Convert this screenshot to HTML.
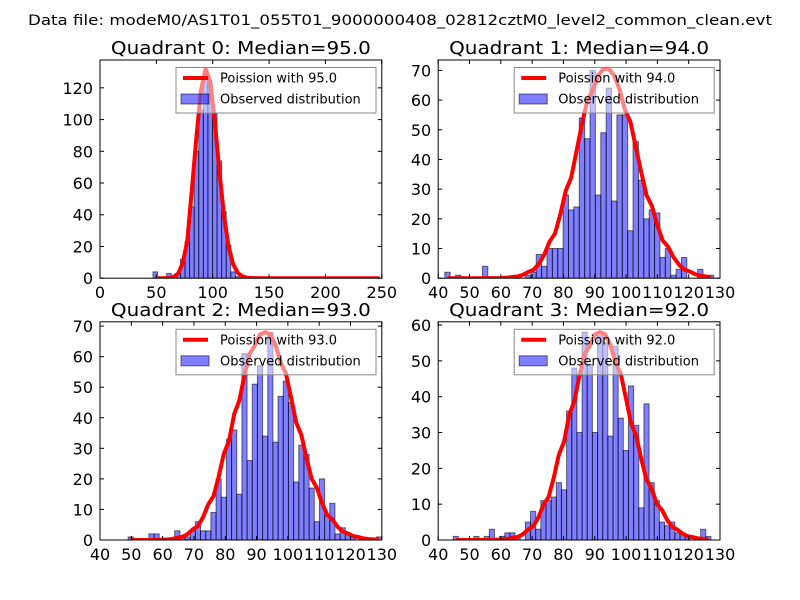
<!DOCTYPE html>
<html><head><meta charset="utf-8">
<style>
html,body{margin:0;padding:0;background:#fff;}
svg{display:block;font-family:"DejaVu Sans","Liberation Sans",sans-serif;}
</style></head>
<body>
<svg id="fig" width="800" height="600" viewBox="0 0 800 600">
<rect width="800" height="600" fill="#fff"/>
<text x="400" y="25" text-anchor="middle" font-size="14.4" textLength="744" lengthAdjust="spacingAndGlyphs">Data file: modeM0/AS1T01_055T01_9000000408_02812cztM0_level2_common_clean.evt</text>
</svg>
<script>
// ---- data ----
const titles = ["Quadrant 0: Median=95.0","Quadrant 1: Median=94.0","Quadrant 2: Median=93.0","Quadrant 3: Median=92.0"];
const medians = [95.0, 94.0, 93.0, 92.0];
const curvePeaks = [132, 70.5, 68, 58];
const q0Counts = [4,0,0,3,1,3,12,23,45,80,106,131,122,104,74,42,21,4,1,0,0,0,0,0,0,0,0,0,0,0,0,0,0,0,0,0,0,0,0,0,0,0,0,0,0,0,0,0,0,0];
const q0Range = [47, 250];
const q1Counts = [2,0,1,0,0,0,0,4,0,0,0,0,0,1,0,1,2,8,4,10,10,10,28,23,24,54,47,70,28,49,64,26,55,55,16,46,33,20,23,22,7,10,1,3,7,0,0,3,0,1];
const q1Range = [42.1, 128];
const q2Counts = [1,0,0,0,2,2,0,0,0,3,1,1,3,6,3,3,9,20,14,33,36,15,61,26,51,57,34,68,32,47,52,45,19,31,28,17,6,20,8,12,2,4,2,1,0,0,0,0,1];
const q2Range = [49, 129.9];
const q3Counts = [1,0,0,0,1,0,1,3,0,1,2,2,1,0,5,8,3,11,11,12,16,14,36,48,30,58,49,30,57,55,29,54,34,25,43,32,9,38,16,11,5,4,5,2,2,1,0,0,3,1];
const q3Range = [44.8, 127.1];
const q0XTicks = [0,50,100,150,200,250];
const q13XTicks = [40,50,60,70,80,90,100,110,120,130];
const q0YTicks = [0,20,40,60,80,100,120];
const q1YTicks = [0,10,20,30,40,50,60,70];
const q2YTicks = [0,10,20,30,40,50,60,70];
const q3YTicks = [0,10,20,30,40,50,60];
const xLims = [[0,250],[40,130],[40,130],[40,130]];

const NS = "http://www.w3.org/2000/svg";
const svg = document.getElementById("fig");
function mk(tag, attrs, parent){
  const e = document.createElementNS(NS, tag);
  for (const k in attrs) e.setAttribute(k, attrs[k]);
  (parent||svg).appendChild(e);
  return e;
}
function lnFact(n){ let s=0; for(let i=2;i<=n;i++) s+=Math.log(i); return s; }
function poisson(k, lam){ return Math.exp(k*Math.log(lam) - lam - lnFact(k)); }

const W = 281.8, H = 218.2;
const boxes = [[100,60],[438.2,60],[100,321.8],[438.2,321.8]];
const countsList = [q0Counts,q1Counts,q2Counts,q3Counts];
const rangeList = [q0Range,q1Range,q2Range,q3Range];
const xTickList = [q0XTicks,q13XTicks,q13XTicks,q13XTicks];
const yTickList = [q0YTicks,q1YTicks,q2YTicks,q3YTicks];

for (let p=0; p<4; p++){
  const [L,T] = boxes[p];
  const counts = countsList[p], range = rangeList[p];
  const xl = xLims[p];
  const ymax = 1.05*Math.max(...counts);
  const xs = v => L + (v - xl[0])/(xl[1]-xl[0])*W;
  const ys = v => T + H - v/ymax*H;
  const g = mk("g", {});
  
  
  const clipId = "clip"+p;
  const cp = mk("clipPath", {id:clipId}, g);
  mk("rect", {x:L, y:T, width:W, height:H}, cp);
  const plot = mk("g", {"clip-path":"url(#"+clipId+")"}, g);
  const n = counts.length, bw = (range[1]-range[0])/n;
  for (let i=0;i<n;i++){
    if (counts[i] <= 0) continue;
    const x0 = xs(range[0]+i*bw), x1 = xs(range[0]+(i+1)*bw);
    const r = mk("rect", {x:x0, y:ys(counts[i]), width:x1-x0, height:ys(0)-ys(counts[i]), fill:"rgba(0,0,255,0.5)", stroke:"rgba(0,0,0,0.55)", "stroke-width":1}, plot);
    
    
  }
  const lam = medians[p];
  const raw = [];
  for (let i=0;i<n;i++){ const c = range[0]+(i+0.5)*bw; raw.push([c, poisson(Math.round(c), lam)]); }
  const mx = Math.max(...raw.map(d=>d[1]));
  const pts = raw.map(d => xs(d[0]).toFixed(2)+","+ys(d[1]/mx*curvePeaks[p]).toFixed(2)).join(" ");
  const pl = mk("polyline", {points:pts, fill:"none", stroke:"#ff0000", "stroke-width":4, "stroke-linejoin":"round"}, plot);
  
  
  const fr = mk("rect", {x:L, y:T, width:W, height:H, fill:"none", stroke:"#000", "stroke-width":1}, g);
  
  
  for (const t of xTickList[p]){
    const x = xs(t);
    mk("line", {x1:x, y1:T+H, x2:x, y2:T+H-4, stroke:"#000"}, g);
    mk("line", {x1:x, y1:T, x2:x, y2:T+4, stroke:"#000"}, g);
    const tx = mk("text", {x:x, y:T+H+20, "text-anchor":"middle", "font-size":16}, g);
    tx.textContent = t;
    
    
  }
  for (const t of yTickList[p]){
    const y = ys(t);
    mk("line", {x1:L, y1:y, x2:L+4, y2:y, stroke:"#000"}, g);
    mk("line", {x1:L+W, y1:y, x2:L+W-4, y2:y, stroke:"#000"}, g);
    const ty = mk("text", {x:L-7, y:y+6, "text-anchor":"end", "font-size":16}, g);
    ty.textContent = t;
    
    
  }
  const tt = mk("text", {x:L+W/2, y:T-6, "text-anchor":"middle", "font-size":18, textLength:260, lengthAdjust:"spacingAndGlyphs"}, g);
  tt.textContent = titles[p];
  
  
  const lx = L+76, ly = T+7.5;
  const lg = mk("g", {}, g);
  
  
  mk("rect", {x:lx, y:ly, width:200, height:45.5, fill:"rgba(255,255,255,0.5)", stroke:"#888", "stroke-width":1}, lg);
  mk("line", {x1:lx+7, y1:ly+10.5, x2:lx+32, y2:ly+10.5, stroke:"#ff0000", "stroke-width":4}, lg);
  const t1 = mk("text", {x:lx+44, y:ly+15, "font-size":13}, lg);
  t1.textContent = "Poission with " + medians[p].toFixed(1);
  
  
  mk("rect", {x:lx+5, y:ly+26.5, width:28, height:10, fill:"rgba(0,0,255,0.5)", stroke:"rgba(0,0,0,0.55)"}, lg);
  const t2 = mk("text", {x:lx+44, y:ly+36, "font-size":13}, lg);
  t2.textContent = "Observed distribution";
  
  
}
</script>
</body></html>
